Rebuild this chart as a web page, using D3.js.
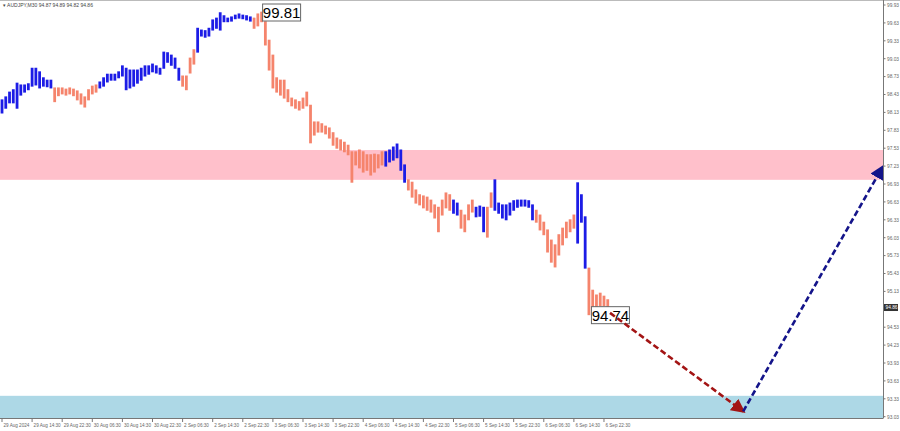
<!DOCTYPE html>
<html><head><meta charset="utf-8">
<script src="https://cdn.jsdelivr.net/npm/d3@7"></script>
<style>html,body{margin:0;padding:0;background:#fff;}svg{display:block;font-family:"Liberation Sans",Arial,sans-serif;}</style>
</head><body>
<svg id="c" width="900" height="431"></svg>
<script>
// ---- data ----
const highs = [98.34,98.39,98.47,98.51,98.62,98.59,98.59,98.61,98.87,98.87,98.81,98.71,98.67,98.67,98.54,98.54,98.54,98.52,98.54,98.52,
98.49,98.44,98.39,98.51,98.57,98.59,98.64,98.71,98.77,98.77,98.77,98.81,98.91,98.87,98.84,98.84,98.84,98.87,98.91,98.91,
98.94,98.91,98.87,99.14,99.13,99.09,99.04,98.87,98.74,98.74,99.04,99.18,99.54,99.51,99.50,99.54,99.68,99.71,99.80,99.75,
99.71,99.73,99.76,99.78,99.76,99.75,99.73,99.71,99.78,99.81,99.65,99.34,99.09,98.71,98.67,98.67,98.51,98.37,98.34,98.31,
98.37,98.47,98.25,97.97,97.97,97.94,97.90,97.87,97.79,97.70,97.67,97.63,97.58,97.47,97.47,97.50,97.47,97.42,97.42,97.43,
97.42,97.47,97.47,97.50,97.55,97.60,97.50,97.25,97.00,96.96,96.83,96.75,96.73,96.71,96.66,96.58,96.54,96.66,96.78,96.75,
96.66,96.61,96.49,96.41,96.58,96.66,96.54,96.56,96.54,96.54,96.78,97.00,96.61,96.58,96.58,96.61,96.65,96.66,96.66,96.66,
96.65,96.58,96.49,96.41,96.29,96.16,95.99,95.91,96.08,96.19,96.29,96.33,96.41,96.95,96.75,96.38,95.52,95.15,95.07,95.10,
95.05,94.99];
const lows = [98.12,98.20,98.29,98.29,98.20,98.42,98.47,98.51,98.57,98.59,98.54,98.57,98.56,98.54,98.31,98.41,98.44,98.42,98.44,98.41,
98.34,98.27,98.22,98.34,98.44,98.47,98.54,98.57,98.64,98.67,98.67,98.71,98.74,98.51,98.54,98.57,98.62,98.67,98.74,98.77,
98.81,98.79,98.77,98.87,98.97,98.92,98.87,98.67,98.57,98.51,98.79,98.94,99.14,99.41,99.39,99.41,99.51,99.54,99.51,99.65,
99.65,99.66,99.70,99.71,99.70,99.68,99.66,99.54,99.58,99.65,99.26,98.84,98.54,98.47,98.42,98.37,98.31,98.24,98.20,98.17,
98.20,98.24,97.62,97.75,97.80,97.80,97.77,97.70,97.58,97.53,97.50,97.47,97.42,96.96,97.25,97.20,97.13,97.16,97.08,97.13,
97.20,97.25,97.23,97.30,97.33,97.37,97.16,96.96,96.83,96.71,96.61,96.58,96.53,96.49,96.46,96.36,96.13,96.41,96.53,96.49,
96.44,96.41,96.19,96.13,96.33,96.46,96.38,96.39,96.13,96.04,96.54,96.49,96.44,96.36,96.33,96.41,96.49,96.54,96.56,96.56,
96.54,96.33,96.29,96.16,96.08,95.79,95.62,95.54,95.74,95.91,96.03,96.13,96.19,95.94,96.29,95.52,94.74,94.85,94.82,94.89,
94.89,94.85];
// wave colouring: [firstBar, lastBar, wave]
const waveSegments = [[0,13,"up"],[14,25,"down"],[26,47,"up"],[48,51,"down"],[52,66,"up"],[67,101,"down"],[102,107,"up"],
[108,119,"down"],[120,121,"up"],[122,125,"down"],[126,128,"up"],[129,130,"down"],[131,141,"up"],[142,152,"down"],[153,155,"up"],[156,161,"down"]];
const timeLabels = ["29 Aug 2024","29 Aug 14:30","29 Aug 22:30","30 Aug 06:30","30 Aug 14:30","30 Aug 22:30","2 Sep 06:30","2 Sep 14:30",
"2 Sep 22:30","3 Sep 06:30","3 Sep 14:30","3 Sep 22:30","4 Sep 06:30","4 Sep 14:30","4 Sep 22:30","5 Sep 06:30","5 Sep 14:30",
"5 Sep 22:30","6 Sep 06:30","6 Sep 14:30","6 Sep 22:30"];
const labelBarStep = 8;
const priceTicks = [99.93,99.63,99.33,99.03,98.73,98.43,98.13,97.83,97.53,97.23,96.93,96.63,96.33,96.03,95.73,95.43,95.13,94.83,94.53,94.23,93.93,93.63,93.33,93.03];
const resistanceZone = [97.0, 97.5];
const supportZone = [93.0, 93.38];
const peakLabel = {bar: 69, price: 99.81, text: "99.81"};
const lowLabel = {bar: 156, price: 94.74, text: "94.74"};
const lastPrice = 94.86;
const forecastDown = [{bar: 161.6, price: 94.77}, {bar: 197, price: 93.12}];
const forecastUp = [{bar: 197, price: 93.12}, {bar: 234, price: 97.21}];
const title = "AUDJPY,M30  94.87 94.89 94.82 94.86";

// ---- drawing ----
const svg = d3.select("#c");
const W = 900, H = 431, plotR = 883, plotB = 418;
const x = d3.scaleLinear().domain([0, 234]).range([2, 882.4]);
const y = d3.scaleLinear().domain([93.03, 99.93]).range([416.7, 5]);
const colors = {up: "#1c1ce6", down: "#f5846c"};

svg.append("clipPath").attr("id","pc").append("rect").attr("x",0).attr("y",0).attr("width",plotR).attr("height",plotB);
const g = svg.append("g").attr("clip-path","url(#pc)");

g.append("rect").attr("x",0).attr("width",plotR).attr("y",y(resistanceZone[1])).attr("height",y(resistanceZone[0])-y(resistanceZone[1])).attr("fill","#ffc0cb");
g.append("rect").attr("x",0).attr("width",plotR).attr("y",y(supportZone[1])).attr("height",y(supportZone[0])-y(supportZone[1])).attr("fill","#add8e6");

const bars = highs.map((h,i)=>{
  const seg = waveSegments.find(s=>i>=s[0]&&i<=s[1]);
  return {i, h, l: lows[i], wave: seg ? seg[2] : "down"};
});
g.selectAll("line.bar").data(bars).enter().append("line").attr("class","bar")
  .attr("x1",d=>x(d.i)).attr("x2",d=>x(d.i))
  .attr("y1",d=>y(d.h)-0.5).attr("y2",d=>y(d.l)+0.5)
  .attr("stroke",d=>colors[d.wave]).attr("stroke-width",2.8);

// price labels
function boxLabel(lbl, dx, dyTop){
  const bx = x(lbl.bar)+dx, by = dyTop;
  g.append("rect").attr("x",bx).attr("y",by).attr("width",38).attr("height",17).attr("fill","#fff").attr("stroke","#666").attr("stroke-width",1);
  g.append("text").attr("x",bx+19).attr("y",by+14).attr("text-anchor","middle").attr("font-size",15).attr("fill","#000").text(lbl.text);
}
boxLabel(peakLabel, 1, 4);
boxLabel(lowLabel, 2.5, y(lowLabel.price)-8);

// forecast arrows
const defs = svg.append("defs");
function marker(id, col){
  defs.append("marker").attr("id",id).attr("viewBox","0 0 10 10").attr("refX",8).attr("refY",5)
    .attr("markerWidth",5.5).attr("markerHeight",5.5).attr("orient","auto").attr("markerUnits","strokeWidth")
    .append("path").attr("d","M0,0 L10,5 L0,10 Z").attr("fill",col);
}
marker("mr","#a31414"); marker("mb","#14148a");
const line = d3.line().x(d=>x(d.bar)).y(d=>y(d.price));
svg.append("path").attr("d",line(forecastDown)).attr("fill","none").attr("stroke","#a31414").attr("stroke-width",2.6).attr("stroke-dasharray","6,3").attr("marker-end","url(#mr)");
svg.append("path").attr("d",line(forecastUp)).attr("fill","none").attr("stroke","#14148a").attr("stroke-width",2.6).attr("stroke-dasharray","6,3").attr("marker-end","url(#mb)");

// frame
svg.append("line").attr("x1",0).attr("x2",W).attr("y1",0.5).attr("y2",0.5).attr("stroke","#bbb");
svg.append("line").attr("x1",plotR+0.5).attr("x2",plotR+0.5).attr("y1",0).attr("y2",plotB).attr("stroke","#777");
svg.append("line").attr("x1",0).attr("x2",plotR+0.5).attr("y1",plotB+0.5).attr("y2",plotB+0.5).attr("stroke","#777");

// right axis
const ra = svg.append("g").attr("font-size",4.8).attr("fill","#666");
priceTicks.forEach(p=>{
  ra.append("line").attr("x1",plotR).attr("x2",plotR+2.5).attr("y1",y(p)).attr("y2",y(p)).attr("stroke","#777");
  if (Math.abs(y(p)-y(lastPrice)) > 5)
    ra.append("text").attr("x",plotR+4).attr("y",y(p)+1.8).text(p.toFixed(2));
});
ra.append("rect").attr("x",plotR+1).attr("y",y(lastPrice)-3.5).attr("width",14).attr("height",7).attr("fill","#333");
ra.append("text").attr("x",plotR+2.5).attr("y",y(lastPrice)+1.8).attr("fill","#fff").text(lastPrice.toFixed(2));

// bottom axis
const ba = svg.append("g").attr("font-size",4.6).attr("fill","#666");
timeLabels.forEach((t,k)=>{
  const xx = x(k*labelBarStep);
  ba.append("line").attr("x1",xx).attr("x2",xx).attr("y1",plotB).attr("y2",plotB+4).attr("stroke","#777");
  ba.append("text").attr("x",xx+1.5).attr("y",plotB+8.5).text(t);
});

// title
svg.append("text").attr("x",3).attr("y",7).attr("font-size",5).attr("fill","#444").text("\u25BE " + title);
</script>
</body></html>
